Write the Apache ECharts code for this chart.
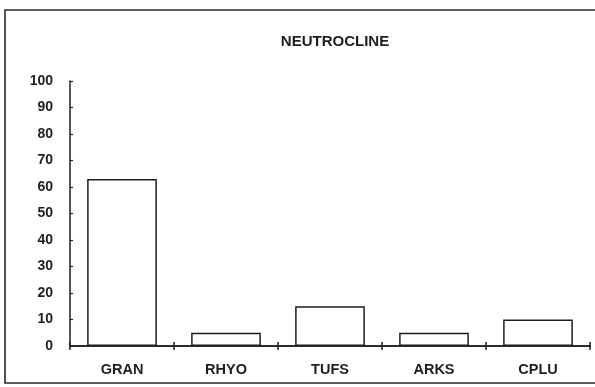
<!DOCTYPE html>
<html>
<head>
<meta charset="utf-8">
<script src="https://cdn.jsdelivr.net/npm/echarts@6/dist/echarts.min.js"></script>
<style>
  html, body { margin: 0; padding: 0; background: #fff; }
  #chart { width: 595px; height: 387px; }
</style>
</head>
<body>
<div id="chart"></div>
<script>
// Rock types along the x axis and their percentage values
const categories = ['GRAN', 'RHYO', 'TUFS', 'ARKS', 'CPLU'];
const values = [63, 5, 15, 5, 10];
const chartTitle = 'NEUTROCLINE';

const ink = '#1e1e1e';
const font = 'Liberation Sans, Arial, Helvetica, sans-serif';

const chart = echarts.init(document.getElementById('chart'), null, { renderer: 'canvas' });

const baseX = {
  type: 'category',
  data: categories,
  position: 'bottom',
  boundaryGap: true,
  axisLine: { show: true, lineStyle: { color: ink, width: 1.5 } },
  axisTick: { show: true, alignWithLabel: false, length: 4, lineStyle: { color: ink, width: 1.5 } },
  splitLine: { show: false }
};

chart.setOption({
  backgroundColor: '#fff',
  animation: false,
  title: {
    text: chartTitle,
    left: 330,
    textAlign: 'center',
    top: 29,
    textStyle: { fontFamily: font, fontSize: 15, fontWeight: 'bold', color: ink }
  },
  grid: { left: 70, right: 5, top: 81, bottom: 41, containLabel: false },
  xAxis: [
    Object.assign({}, baseX, {
      axisTick: Object.assign({}, baseX.axisTick, { inside: false }),
      axisLabel: { margin: 16, fontFamily: font, fontSize: 14.5, fontWeight: 'bold', color: ink }
    }),
    Object.assign({}, baseX, {
      axisTick: Object.assign({}, baseX.axisTick, { inside: true }),
      axisLabel: { show: false }
    })
  ],
  yAxis: {
    type: 'value',
    min: 0,
    max: 100,
    interval: 10,
    axisLine: { show: true, lineStyle: { color: ink, width: 1.5 } },
    axisTick: { show: true, inside: true, length: 3, lineStyle: { color: ink, width: 1.2 } },
    splitLine: { show: false },
    axisLabel: { margin: 17, fontFamily: font, fontSize: 14, fontWeight: 'bold', color: ink }
  },
  series: [{
    type: 'bar',
    data: values,
    xAxisIndex: 0,
    barWidth: '67%',
    itemStyle: { color: '#fff', borderColor: ink, borderWidth: 1.5 },
    z: 3
  }],
  graphic: [{
    type: 'rect',
    shape: { x: 5, y: 10, width: 620, height: 373 },
    style: { fill: null, stroke: '#2a2a2a', lineWidth: 1.6 },
    silent: true,
    z: 10
  }]
});
</script>
</body>
</html>
